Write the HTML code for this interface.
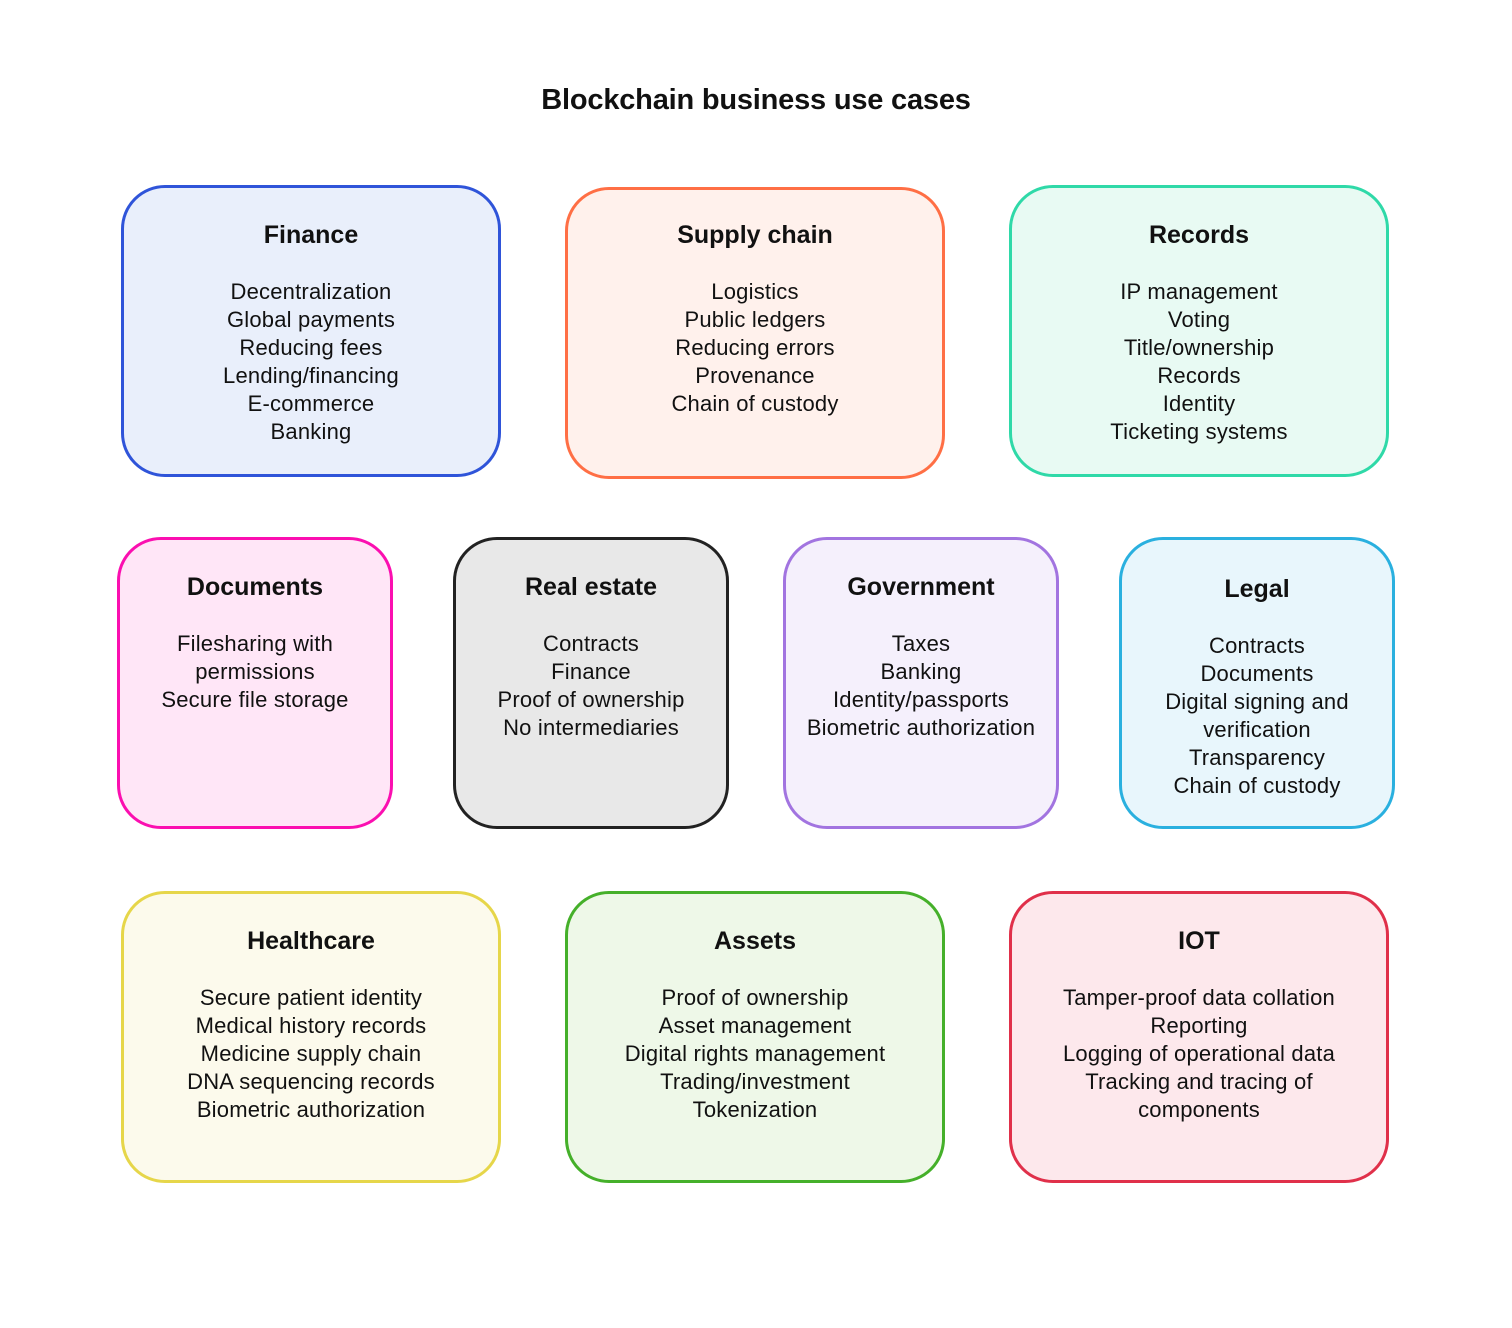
<!DOCTYPE html>
<html><head><meta charset="utf-8"><style>
body{margin:0;width:1512px;height:1328px;background:#fff;font-family:"Liberation Sans",Arial,sans-serif;color:#111;position:relative;overflow:hidden}
.t{position:absolute;left:0;width:1512px;top:83px;text-align:center;font-size:29px;font-weight:bold;line-height:34px;letter-spacing:-0.2px}
.b{position:absolute;box-sizing:border-box;border:3px solid;border-radius:44px;text-align:center}
.b h{display:block;position:absolute;left:0;right:0;top:32px;font-size:25px;font-weight:bold;line-height:30px}
.b p{position:absolute;left:0;right:0;top:90px;margin:0;font-size:22px;line-height:28px;letter-spacing:0.2px}
</style></head><body>
<div class="t">Blockchain business use cases</div>

<div class="b" style="left:121px;top:185px;width:380px;height:292px;border-color:#2f54d9;background:#e9effb"><h>Finance</h><p>Decentralization<br>Global payments<br>Reducing fees<br>Lending/financing<br>E-commerce<br>Banking</p></div>
<div class="b" style="left:565px;top:187px;width:380px;height:292px;border-color:#ff6f45;background:#fff1ec"><h style="top:30px">Supply chain</h><p style="top:88px">Logistics<br>Public ledgers<br>Reducing errors<br>Provenance<br>Chain of custody</p></div>
<div class="b" style="left:1009px;top:185px;width:380px;height:292px;border-color:#2fd9a8;background:#e8faf3"><h>Records</h><p>IP management<br>Voting<br>Title/ownership<br>Records<br>Identity<br>Ticketing systems</p></div>

<div class="b" style="left:117px;top:537px;width:276px;height:292px;border-color:#fb0fb0;background:#ffe6f7"><h>Documents</h><p>Filesharing with<br>permissions<br>Secure file storage</p></div>
<div class="b" style="left:453px;top:537px;width:276px;height:292px;border-color:#222;background:#e8e8e8"><h>Real estate</h><p>Contracts<br>Finance<br>Proof of ownership<br>No intermediaries</p></div>
<div class="b" style="left:783px;top:537px;width:276px;height:292px;border-color:#a274e0;background:#f5f0fc"><h>Government</h><p>Taxes<br>Banking<br>Identity/passports<br>Biometric authorization</p></div>
<div class="b" style="left:1119px;top:537px;width:276px;height:292px;border-color:#2ab0df;background:#e8f6fc"><h style="top:34px">Legal</h><p style="top:92px">Contracts<br>Documents<br>Digital signing and<br>verification<br>Transparency<br>Chain of custody</p></div>

<div class="b" style="left:121px;top:891px;width:380px;height:292px;border-color:#e6d64a;background:#fcfaec"><h>Healthcare</h><p>Secure patient identity<br>Medical history records<br>Medicine supply chain<br>DNA sequencing records<br>Biometric authorization</p></div>
<div class="b" style="left:565px;top:891px;width:380px;height:292px;border-color:#45b02a;background:#eef8e8"><h>Assets</h><p>Proof of ownership<br>Asset management<br>Digital rights management<br>Trading/investment<br>Tokenization</p></div>
<div class="b" style="left:1009px;top:891px;width:380px;height:292px;border-color:#e0304a;background:#fde8ec"><h>IOT</h><p>Tamper-proof data collation<br>Reporting<br>Logging of operational data<br>Tracking and tracing of<br>components</p></div>
</body></html>
